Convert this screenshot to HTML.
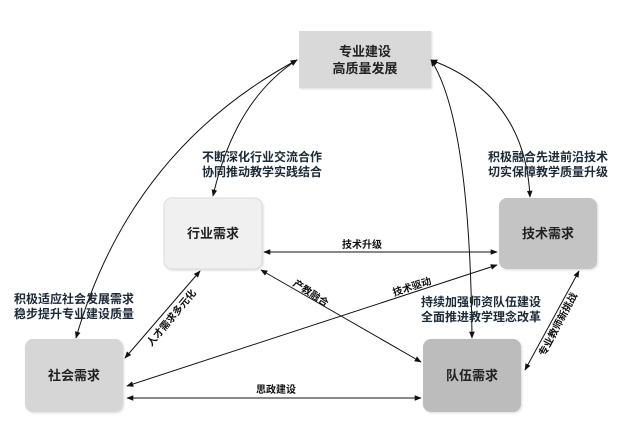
<!DOCTYPE html>
<html><head><meta charset="utf-8"><style>
html,body{margin:0;padding:0;background:#fff;overflow:hidden;}
svg{display:block;}
text{font-family:"Liberation Sans","Noto Sans CJK SC",sans-serif;font-weight:bold;}
</style></head><body>
<svg width="634" height="421" viewBox="0 0 634 421" xmlns="http://www.w3.org/2000/svg">
<defs>
<marker id="a" viewBox="0 0 10 10" refX="9" refY="5" markerWidth="7" markerHeight="7" orient="auto-start-reverse">
<path d="M0,1 L10,5 L0,9 z" fill="#111"/></marker>
<filter id="s" x="-10%" y="-10%" width="130%" height="130%"><feDropShadow dx="1" dy="1" stdDeviation="1" flood-color="#000" flood-opacity="0.15"/></filter>
</defs>
<rect x="299" y="31" width="132" height="57" fill="#d9d9d9" filter="url(#s)"/>
<text x="365" y="56" font-size="13" text-anchor="middle" fill="#222">专业建设</text>
<text x="365" y="73" font-size="13" text-anchor="middle" fill="#222">高质量发展</text>

<rect x="164" y="198" width="98" height="71" rx="8" fill="#f0f0f0" stroke="#ddd" filter="url(#s)"/>
<rect x="499" y="198" width="98" height="71" rx="8" fill="#c4c4c4" filter="url(#s)"/>
<rect x="25" y="339" width="98" height="73" rx="8" fill="#d6d6d6" filter="url(#s)"/>
<rect x="423" y="339" width="98" height="73" rx="8" fill="#bcbcbc" filter="url(#s)"/>
<text x="213" y="238" font-size="13" text-anchor="middle" fill="#222">行业需求</text>
<text x="548" y="238" font-size="13" text-anchor="middle" fill="#222">技术需求</text>
<text x="74" y="380" font-size="13" text-anchor="middle" fill="#222">社会需求</text>
<text x="472" y="380" font-size="13" text-anchor="middle" fill="#222">队伍需求</text>

<g stroke="#111" stroke-width="1" fill="none" marker-start="url(#a)" marker-end="url(#a)">
<path d="M264,252 L497,252"/>
<path d="M127,398 L421,398"/>
<path d="M127,386 L497,265"/>
<path d="M261,270 L421,362"/>
<path d="M200,271 L125,358"/>
<path d="M579,271 L525,370"/>
<path d="M297,60 Q130,150 76,338"/>
<path d="M297,60 Q235,100 213,196"/>
<path d="M431,60 Q470,120 472,338"/>
<path d="M431,60 Q525,95 530,197"/>
</g>

<g font-size="10" fill="#111" text-anchor="middle">
<text x="362" y="248">技术升级</text>
<text x="276" y="393">思政建设</text>
<text transform="translate(413,290) rotate(-18)">技术驱动</text>
<text transform="translate(309,296) rotate(33)">产教融合</text>
<text transform="translate(174,320) rotate(-50)">人才需求多元化</text>
<text transform="translate(561,326) rotate(-62)">专业教师新挑战</text>
</g>
<g font-size="12" fill="#1c2a38" text-anchor="middle">
<text x="262" y="161">不断深化行业交流合作</text>
<text x="262" y="176">协同推动教学实践结合</text>
<text x="548" y="161">积极融合先进前沿技术</text>
<text x="548" y="176">切实保障教学质量升级</text>
<text x="74" y="303">积极适应社会发展需求</text>
<text x="74" y="318">稳步提升专业建设质量</text>
<text x="481" y="306">持续加强师资队伍建设</text>
<text x="481" y="321">全面推进教学理念改革</text>
</g>
</svg>
</body></html>
